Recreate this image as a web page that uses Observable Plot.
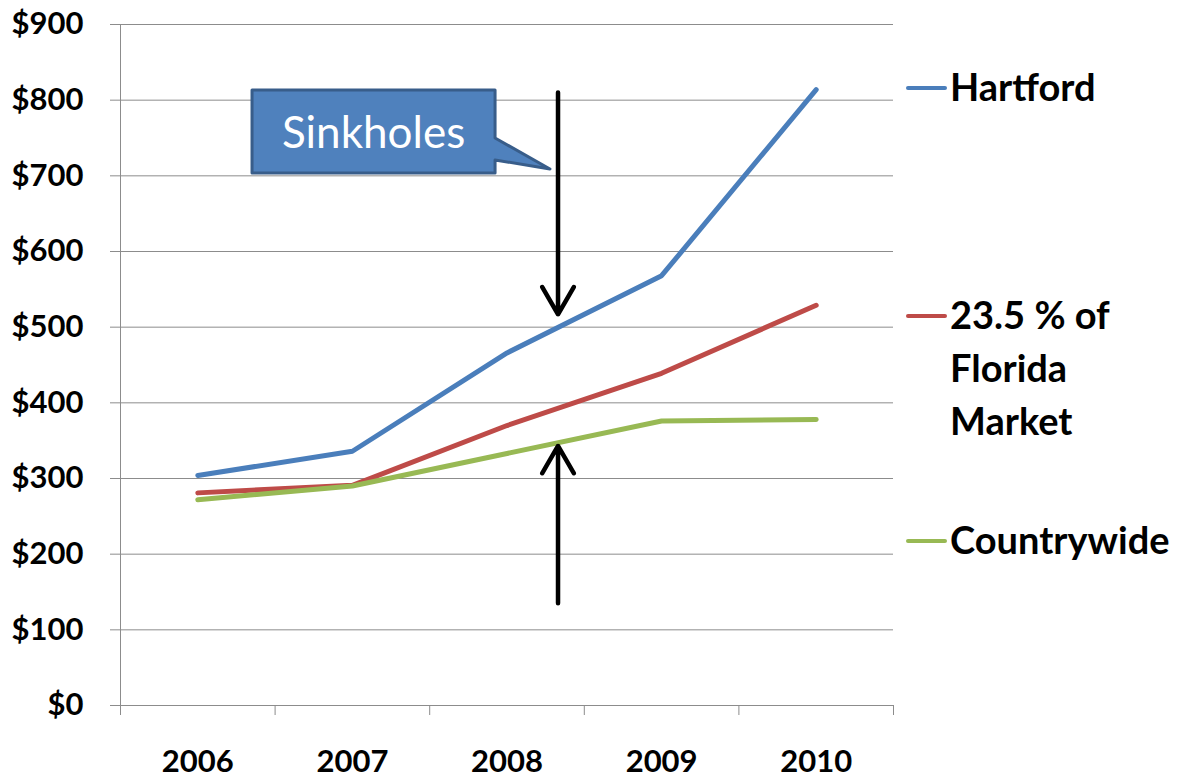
<!DOCTYPE html>
<html><head><meta charset="utf-8">
<script src="https://cdn.jsdelivr.net/npm/d3@7"></script>
<script src="https://cdn.jsdelivr.net/npm/@observablehq/plot@0.6"></script>
<style>
body{margin:0;background:#fff;}
#wrap{width:1184px;height:778px;}
</style>
</head><body><div id="wrap"></div>
<script>
const years = [2006, 2007, 2008, 2009, 2010];
const hartford = [304, 336, 466, 568, 814];
const florida = [281, 291, 370, 439, 529];
const countrywide = [272, 290, 333, 376, 378];
const seriesNames = ["Hartford", "23.5 % of Florida Market", "Countrywide"];
const legendLines = [["Hartford"], ["23.5 % of", "Florida", "Market"], ["Countrywide"]];
const seriesColors = ["#4A7EBB", "#BE4B48", "#98B954"];
const yTicks = [0, 100, 200, 300, 400, 500, 600, 700, 800, 900];
const yearBounds = [2005.5, 2006.5, 2007.5, 2008.5, 2009.5, 2010.5];
const calloutText = "Sinkholes";

const seriesValues = [hartford, florida, countrywide];
const rows = [];
seriesNames.forEach((s, i) => years.forEach((yr, j) => rows.push({series: s, year: yr, value: seriesValues[i][j]})));

// annotation arrows (in data units: fractional year, dollars)
const arrows = [
  {x1: 2008.33, y1: 810, x2: 2008.33, y2: 517},
  {x1: 2008.33, y1: 135, x2: 2008.33, y2: 343}
];
// callout box + pointer, data units
const callout = {left: 2006.354, right: 2007.926, top: 812.8, bottom: 703.1,
  tailTop: 749.3, tailBottom: 720.3, tipX: 2008.281, tipY: 708.4, textX: 2007.14, textY: 758};

function calloutMark(index, scales, values, dimensions, context) {
  const x = scales.x, y = scales.y;
  const L = x(callout.left), R = x(callout.right), T = y(callout.top), B = y(callout.bottom);
  const g = d3.create("svg:g");
  const path = `M${L},${T}H${R}V${y(callout.tailTop)}L${x(callout.tipX)},${y(callout.tipY)}L${R},${y(callout.tailBottom)}V${B}H${L}Z`;
  g.append("path").attr("d", path).attr("fill", "#4F81BD").attr("stroke", "#385D8A")
    .attr("stroke-width", 3).attr("stroke-linejoin", "round");
  g.append("text").attr("x", x(callout.textX)).attr("y", y(callout.textY))
    .attr("text-anchor", "middle").attr("dominant-baseline", "central")
    .attr("fill", "#fff").attr("font-family", "Lato, sans-serif").attr("font-weight", "normal")
    .attr("font-size", 44).text(calloutText);
  return g.node();
}

const chart = Plot.plot({
  width: 1184, height: 778,
  marginLeft: 120, marginRight: 291, marginTop: 24, marginBottom: 73,
  style: {fontFamily: "Lato, sans-serif", fontWeight: "bold", fontSize: "31px", color: "#000", background: "#fff"},
  x: {domain: [2005.5, 2010.5]},
  y: {domain: [0, 900]},
  color: {domain: seriesNames, range: seriesColors},
  marks: [
    Plot.gridY(yTicks, {stroke: "#8c8c8c", strokeOpacity: 1}),
    Plot.axisY(yTicks, {tickSize: 10, tickPadding: 27, stroke: "#8c8c8c", tickFormat: d => "$" + d, label: null}),
    Plot.ruleX([2005.5], {stroke: "#8c8c8c"}),
    Plot.axisX(yearBounds, {tickSize: 10, stroke: "#8c8c8c", tickFormat: () => "", label: null}),
    Plot.axisX(years, {tickSize: 0, tickPadding: 44, tickFormat: d => String(d), label: null}),
    Plot.line(rows, {x: "year", y: "value", z: "series", stroke: "series", strokeWidth: 5, strokeLinecap: "round", strokeLinejoin: "round"}),
    calloutMark,
    Plot.arrow(arrows, {x1: "x1", y1: "y1", x2: "x2", y2: "y2", stroke: "#000", strokeWidth: 4.5, headAngle: 60, headLength: 10.5})
  ]
});
document.getElementById("wrap").appendChild(chart);

// legend on the right
const svg = d3.select(chart);
const legendY = [88, 316, 541];
const lg = svg.append("g").attr("font-family", "Lato, sans-serif").attr("font-weight", "bold")
  .attr("font-size", 38).attr("text-anchor", "start");
legendLines.forEach((lines, i) => {
  lg.append("line").attr("x1", 908).attr("x2", 945).attr("y1", legendY[i]).attr("y2", legendY[i])
    .attr("stroke", seriesColors[i]).attr("stroke-width", 4).attr("stroke-linecap", "round");
  lines.forEach((t, k) => {
    lg.append("text").attr("x", 950).attr("y", legendY[i] + 12.5 + k * 53).attr("fill", "#000")
      .attr("text-anchor", "start").text(t);
  });
});
</script>
</body></html>
